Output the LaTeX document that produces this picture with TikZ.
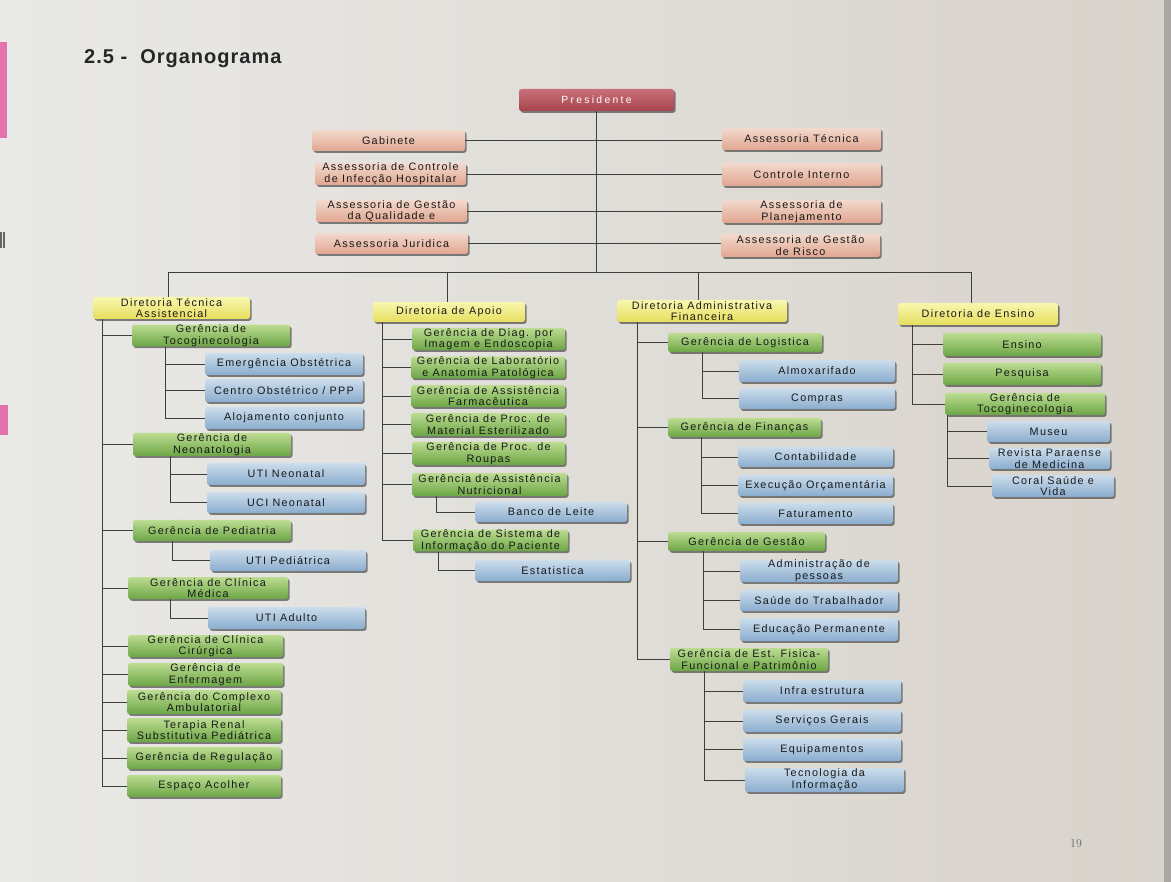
\documentclass[tikz,border=0pt]{standalone}
\usepackage{fontspec}
\usetikzlibrary{shadows}
\newfontfamily\bfont[LetterSpace=12]{Liberation Sans}
\newfontfamily\pfont[LetterSpace=22]{Liberation Sans}
\newfontfamily\tfont[LetterSpace=5]{Liberation Sans}
\newcommand\boxtext{\bfont\fontsize{10.8}{11.6}\selectfont}
\definecolor{bgL}{HTML}{E9E9E6}
\definecolor{bgR}{HTML}{D8D3CB}
\definecolor{presT}{HTML}{C96F78}
\definecolor{presB}{HTML}{A8444E}
\definecolor{peachT}{HTML}{F3D9CD}
\definecolor{peachB}{HTML}{E0A690}
\definecolor{yelT}{HTML}{F8F7B0}
\definecolor{yelB}{HTML}{E6DE5C}
\definecolor{grnT}{HTML}{BCDC92}
\definecolor{grnB}{HTML}{6CA645}
\definecolor{bluT}{HTML}{CCDDEB}
\definecolor{bluB}{HTML}{8AADCE}
\definecolor{lineC}{HTML}{3E3E3E}
\definecolor{pinkM}{HTML}{E2559F}
\tikzset{
  bx/.style={rounded corners=2.5pt, align=center, inner sep=0pt, font=\boxtext,
    text=black!90,
    drop shadow={shadow xshift=1.6pt, shadow yshift=-1.8pt, opacity=0.65, fill=black!75}},
  presbox/.style={bx, top color=presT, bottom color=presB, text=white,
    font={\pfont\fontsize{10.4}{10.4}\selectfont}},
  peach/.style={bx, top color=peachT, bottom color=peachB},
  yel/.style={bx, top color=yelT, bottom color=yelB},
  grn/.style={bx, top color=grnT, bottom color=grnB},
  blu/.style={bx, top color=bluT, bottom color=bluB},
  ln/.style={draw=lineC, line width=0.8pt}
}
\newcommand\bx[7]{\node[#2, minimum width={(#5-#3)*1pt}, minimum height={(#6-#4)*1pt}] (#1) at ({(#3+#5)/2},{(#4+#6)/2}) {#7};}
\begin{document}
\begin{tikzpicture}[x=1pt,y=-1pt]
\useasboundingbox (0,0) rectangle (1171,882);
\fill[left color=bgL, right color=bgR] (0,0) rectangle (1171,882);
\fill[black!45, opacity=0.6] (1164,0) rectangle (1171,882);
\fill[pinkM, opacity=0.8] (0,42) rectangle (7,138);
\fill[pinkM, opacity=0.8] (0,405) rectangle (8,435);
\fill[black!60] (0,232) rectangle (2,248);
\fill[black!60] (3,232) rectangle (5,248);

% title and page number
\node[anchor=base west, inner sep=0pt, font={\tfont\bfseries\fontsize{20}{20}\selectfont}, text=black!85] (title) at (84,64) {2.5 -\ \ Organograma};
\node[inner sep=0pt, font=\fontsize{12}{12}\selectfont, text=black!60] (page) at (1076,844) {19};

% top level
\bx{pres}{presbox}{519}{89}{674}{111}{Presidente}
\bx{gab}{peach}{312}{130}{465}{151}{Gabinete}
\bx{acih}{peach}{315}{163}{466}{185}{Assessoria de Controle\\de Infecção Hospitalar}
\bx{agq}{peach}{316}{200}{467}{222}{Assessoria de Gestão\\da Qualidade e}
\bx{ajur}{peach}{315}{233}{468}{254}{Assessoria Juridica}
\bx{atec}{peach}{722}{128}{881}{150}{Assessoria Técnica}
\bx{cint}{peach}{722}{163}{881}{186}{Controle Interno}
\bx{aplan}{peach}{722}{200}{881}{223}{Assessoria de\\Planejamento}
\bx{arisco}{peach}{721}{234}{880}{257}{Assessoria de Gestão\\de Risco}

% directorates
\bx{dta}{yel}{93}{297}{250}{319}{Diretoria Técnica\\Assistencial}
\bx{dap}{yel}{373}{302}{525}{322}{Diretoria de Apoio}
\bx{dadm}{yel}{617}{300}{787}{322}{Diretoria Administrativa\\Financeira}
\bx{den}{yel}{898}{303}{1058}{325}{Diretoria de Ensino}

% column 1
\bx{ga1}{grn}{132}{325}{290}{346}{Gerência de\\Tocoginecologia}
\bx{emerg}{blu}{205}{353}{363}{375}{Emergência Obstétrica}
\bx{centro}{blu}{205}{379}{363}{402}{Centro Obstétrico / PPP}
\bx{aloj}{blu}{205}{407}{363}{429}{Alojamento conjunto}
\bx{ga2}{grn}{133}{433}{291}{456}{Gerência de\\Neonatologia}
\bx{utin}{blu}{207}{463}{365}{485}{UTI Neonatal}
\bx{ucin}{blu}{207}{492}{365}{513}{UCI Neonatal}
\bx{ga3}{grn}{133}{520}{291}{541}{Gerência de Pediatria}
\bx{utip}{blu}{210}{550}{366}{571}{UTI Pediátrica}
\bx{ga4}{grn}{128}{577}{288}{599}{Gerência de Clínica\\Médica}
\bx{utia}{blu}{208}{607}{365}{629}{UTI Adulto}
\bx{ga5}{grn}{128}{635}{283}{657}{Gerência de Clínica\\Cirúrgica}
\bx{ga6}{grn}{128}{663}{283}{686}{Gerência de\\Enfermagem}
\bx{ga7}{grn}{127}{690}{281}{714}{Gerência do Complexo\\Ambulatorial}
\bx{ga8}{grn}{127}{718}{281}{742}{Terapia Renal\\Substitutiva Pediátrica}
\bx{ga9}{grn}{127}{747}{281}{769}{Gerência de Regulação}
\bx{ga10}{grn}{127}{775}{281}{797}{Espaço Acolher}

% column 2
\bx{gb1}{grn}{412}{328}{565}{350}{Gerência de Diag. por\\Imagem e Endoscopia}
\bx{gb2}{grn}{411}{357}{565}{378}{Gerência de Laboratório\\e Anatomia Patológica}
\bx{gb3}{grn}{411}{385}{565}{407}{Gerência de Assistência\\Farmacêutica}
\bx{gb4}{grn}{411}{413}{565}{436}{Gerência de Proc. de\\Material Esterilizado}
\bx{gb5}{grn}{412}{442}{565}{465}{Gerência de Proc. de\\Roupas}
\bx{gb6}{grn}{412}{473}{567}{496}{Gerência de Assistência\\Nutricional}
\bx{banco}{blu}{475}{502}{627}{522}{Banco de Leite}
\bx{gb7}{grn}{413}{530}{568}{551}{Gerência de Sistema de\\Informação do Paciente}
\bx{estat}{blu}{475}{560}{630}{581}{Estatistica}

% column 3
\bx{gc1}{grn}{668}{333}{822}{352}{Gerência de Logistica}
\bx{almox}{blu}{739}{360}{895}{382}{Almoxarifado}
\bx{compras}{blu}{739}{388}{895}{409}{Compras}
\bx{gc2}{grn}{668}{418}{821}{437}{Gerência de Finanças}
\bx{contab}{blu}{738}{447}{893}{467}{Contabilidade}
\bx{exec}{blu}{738}{475}{893}{496}{Execução Orçamentária}
\bx{fat}{blu}{738}{503}{893}{524}{Faturamento}
\bx{gc3}{grn}{668}{532}{825}{551}{Gerência de Gestão}
\bx{admp}{blu}{740}{560}{898}{582}{Administração de\\pessoas}
\bx{saude}{blu}{740}{590}{898}{611}{Saúde do Trabalhador}
\bx{edu}{blu}{740}{618}{898}{641}{Educação Permanente}
\bx{gc4}{grn}{670}{648}{828}{671}{Gerência de Est. Fisica-\\Funcional e Patrimônio}
\bx{infra}{blu}{743}{680}{901}{702}{Infra estrutura}
\bx{serv}{blu}{743}{710}{901}{732}{Serviços Gerais}
\bx{equip}{blu}{743}{738}{901}{761}{Equipamentos}
\bx{tecinf}{blu}{745}{768}{904}{792}{Tecnologia da\\Informação}

% column 4
\bx{gd1}{grn}{943}{333}{1101}{356}{Ensino}
\bx{gd2}{grn}{943}{363}{1101}{385}{Pesquisa}
\bx{gd3}{grn}{945}{393}{1105}{415}{Gerência de\\Tocoginecologia}
\bx{museu}{blu}{987}{421}{1110}{442}{Museu}
\bx{revista}{blu}{989}{448}{1110}{469}{Revista Paraense\\de Medicina}
\bx{coral}{blu}{992}{475}{1114}{497}{Coral Saúde e\\Vida}

% connectors: top
\coordinate (b1) at (168,272);
\coordinate (b2) at (447,272);
\coordinate (b3) at (698,272);
\coordinate (b4) at (971,272);
\draw[ln] (pres.south) -- (pres.south |- b1);
\draw[ln] (gab.east) -- (gab.east -| atec.west);
\draw[ln] (acih.east) -- (acih.east -| cint.west);
\draw[ln] (agq.east) -- (agq.east -| aplan.west);
\draw[ln] (ajur.east) -- (ajur.east -| arisco.west);
\draw[ln] (b1) -- (b4);
\draw[ln] (b1) -- (b1 |- dta.north);
\draw[ln] (b2) -- (b2 |- dap.north);
\draw[ln] (b3) -- (b3 |- dadm.north);
\draw[ln] (b4) -- (b4 |- den.north);

% column 1 connectors
\coordinate (v1) at ([xshift=10pt]dta.south west);
\foreach \c in {ga1,ga2,ga3,ga4,ga5,ga6,ga7,ga8,ga9,ga10} {\draw[ln] (v1) |- (\c.west);}
\coordinate (s1) at ([xshift=34pt]ga1.south west);
\foreach \c in {emerg,centro,aloj} {\draw[ln] (s1) |- (\c.west);}
\coordinate (s2) at ([xshift=38pt]ga2.south west);
\foreach \c in {utin,ucin} {\draw[ln] (s2) |- (\c.west);}
\coordinate (s3) at ([xshift=40pt]ga3.south west);
\draw[ln] (s3) |- (utip.west);
\coordinate (s4) at ([xshift=43pt]ga4.south west);
\draw[ln] (s4) |- (utia.west);

% column 2 connectors
\coordinate (v2) at ([xshift=10pt]dap.south west);
\foreach \c in {gb1,gb2,gb3,gb4,gb5,gb6,gb7} {\draw[ln] (v2) |- (\c.west);}
\coordinate (s5) at ([xshift=25pt]gb6.south west);
\draw[ln] (s5) |- (banco.west);
\coordinate (s6) at ([xshift=26pt]gb7.south west);
\draw[ln] (s6) |- (estat.west);

% column 3 connectors
\coordinate (v3) at ([xshift=21pt]dadm.south west);
\foreach \c in {gc1,gc2,gc3,gc4} {\draw[ln] (v3) |- (\c.west);}
\coordinate (s7) at ([xshift=35pt]gc1.south west);
\foreach \c in {almox,compras} {\draw[ln] (s7) |- (\c.west);}
\coordinate (s8) at ([xshift=34pt]gc2.south west);
\foreach \c in {contab,exec,fat} {\draw[ln] (s8) |- (\c.west);}
\coordinate (s9) at ([xshift=36pt]gc3.south west);
\foreach \c in {admp,saude,edu} {\draw[ln] (s9) |- (\c.west);}
\coordinate (s10) at ([xshift=35pt]gc4.south west);
\foreach \c in {infra,serv,equip,tecinf} {\draw[ln] (s10) |- (\c.west);}

% column 4 connectors
\coordinate (v4) at ([xshift=15pt]den.south west);
\foreach \c in {gd1,gd2,gd3} {\draw[ln] (v4) |- (\c.west);}
\coordinate (s11) at ([xshift=3pt]gd3.south west);
\foreach \c in {museu,revista,coral} {\draw[ln] (s11) |- (\c.west);}
\end{tikzpicture}
\end{document}
